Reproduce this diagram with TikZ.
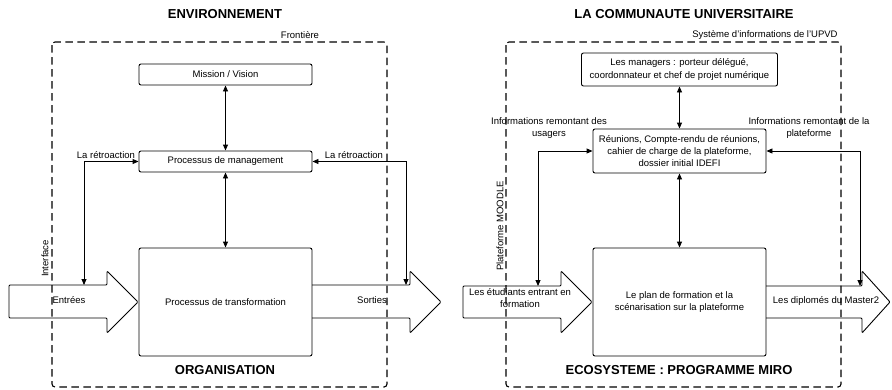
\documentclass[tikz,border=0pt]{standalone}
\usepackage{fontspec}
\setmainfont{Liberation Sans}
\usetikzlibrary{arrows.meta}

\begin{document}
\begin{tikzpicture}[x=1pt,y=-1pt,
  box/.style={draw,rounded corners=2pt,line width=0.9pt,inner sep=0pt,align=center,font=\fontsize{9.5}{12.3}\selectfont},
  lbl/.style={font=\fontsize{9.5}{12}\selectfont,align=center,inner sep=0pt},
  ttl/.style={font=\fontsize{13}{15}\selectfont\bfseries,inner sep=0pt},
  frontier/.style={draw=black,dash pattern=on 7.5pt off 4.5pt,line width=1.1pt,rounded corners=3pt},
  fleche/.style={line width=0.9pt,{Triangle[length=6pt,width=5pt]}-{Triangle[length=6pt,width=5pt]}},
  bigarrow/.style={draw,line width=0.9pt,rounded corners=1pt}]
\useasboundingbox (0,0) rectangle (892,389);
\node[ttl] (env) at (225,14) {ENVIRONNEMENT};
\node[ttl] (orga) at (225,370) {ORGANISATION};
\node[lbl] (front) at (300,35) {Frontière};
\node[box,minimum width=173pt,minimum height=21pt] (mission) at (225.5,74.5) {Mission / Vision};
\node[box,minimum width=173pt,minimum height=21pt] (mgmt) at (225.5,161.5) {Processus de management};
\node[box,minimum width=173pt,minimum height=108pt] (transf) at (225.5,302) {Processus de transformation};
\draw[bigarrow] (9,285) -- (107,285) -- (107,271) -- (138,302) -- (107,333) -- (107,318) -- (9,318) -- cycle;
\draw[bigarrow] (312,285) -- (410,285) -- (410,271) -- (441,302) -- (410,333) -- (410,318) -- (312,318);
\node[lbl] (entrees) at (69,300) {Entrées};
\node[lbl] (sorties) at (372,300) {Sorties};
\node[lbl,rotate=90] (interface) at (45,258.5) {Interface};
\draw[frontier] (52,42) rectangle (387,387);
\coordinate (inL) at (84,285);
\coordinate (outR) at (406,285);
\draw[fleche] (mission) -- (mgmt);
\draw[fleche] (mgmt) -- (transf);
\draw[fleche] (inL) |- (mgmt.west);
\draw[fleche] (outR) |- (mgmt.east);
\node[lbl] (retroL) at (106,155) {La rétroaction};
\node[lbl] (retroR) at (354,155) {La rétroaction};

\node[ttl] (communaute) at (684,14) {LA COMMUNAUTE UNIVERSITAIRE};
\node[ttl] (miro) at (679,370) {ECOSYSTEME : PROGRAMME MIRO};
\node[lbl] (sysinfo) at (765,35) {Système d'informations de l'UPVD};
\node[box,minimum width=196pt,minimum height=33pt] (managers) at (679.5,69.5) {Les managers : porteur délégué,\\coordonnateur et chef de projet numérique};
\node[box,minimum width=173pt,minimum height=44pt] (reunions) at (679.5,151) {Réunions, Compte-rendu de réunions,\\cahier de charge de la plateforme,\\dossier initial IDEFI};
\node[box,minimum width=173pt,minimum height=108pt] (plan) at (679.5,302) {Le plan de formation et la\\scénarisation sur la plateforme};
\draw[bigarrow] (463,286) -- (561,286) -- (561,271) -- (592,302) -- (561,333) -- (561,318) -- (463,318) -- cycle;
\draw[bigarrow] (766,286) -- (862,286) -- (862,271) -- (890,302) -- (862,333) -- (862,318) -- (766,318);
\node[lbl] (etudiants) at (520,298.5) {Les étudiants entrant en\\formation};
\node[lbl] (diplomes) at (826,301) {Les diplomés du Master2};
\node[lbl,rotate=90] (moodle) at (500,226) {Plateforme MOODLE};
\draw[frontier] (506,42) rectangle (841,387);
\coordinate (usagers) at (538,286);
\coordinate (plateforme) at (860,286);
\draw[fleche] (managers) -- (reunions);
\draw[fleche] (reunions) -- (plan);
\draw[fleche] (usagers) |- (reunions.west);
\draw[fleche] (plateforme) |- (reunions.east);
\node[lbl] (infoUsagers) at (549,128) {Informations remontant des\\usagers};
\node[lbl] (infoPlateforme) at (809,128) {Informations remontant de la\\plateforme};
\end{tikzpicture}
\end{document}
